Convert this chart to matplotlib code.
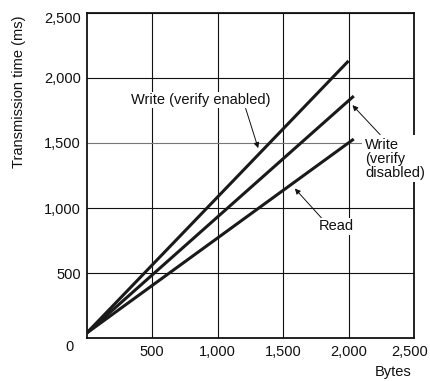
import matplotlib
matplotlib.use("Agg")
import matplotlib.pyplot as plt
import matplotlib.transforms as mtransforms

plt.rcParams['font.family'] = ['Liberation Sans', 'DejaVu Sans']

# Data
bytes_write_enabled = [0, 2000]
time_write_enabled = [40, 2130]
bytes_write_disabled = [0, 2040]
time_write_disabled = [40, 1860]
bytes_read = [0, 2040]
time_read = [40, 1530]

tick_values = [500, 1000, 1500, 2000, 2500]
tick_labels = ["500", "1,000", "1,500", "2,000", "2,500"]

FS = 10.5

fig = plt.figure(figsize=(4.31, 3.81), dpi=100)
ax = fig.add_axes([0.201, 0.112, 0.7596, 0.8547])

ax.set_xlim(0, 2500)
ax.set_ylim(0, 2500)
ax.set_xticks(tick_values)
ax.set_xticklabels(tick_labels)
ax.set_yticks(tick_values)
ax.set_yticklabels(tick_labels)
ax.tick_params(length=0, labelsize=FS, colors='#111111')
ax.tick_params(axis='x', pad=5)
ax.tick_params(axis='y', pad=4)
ax.grid(True, color='#111111', linewidth=0.8)
for i, gl in enumerate(ax.get_ygridlines()):
    if tick_values[i] == 1500:
        gl.set_color('#777777')
for s in ax.spines.values():
    s.set_linewidth(1.3)
    s.set_color('#111111')

# nudge the end labels like in the reference
xl = ax.get_xticklabels()[-1]
xl.set_transform(xl.get_transform() + mtransforms.ScaledTranslation(-4 / 100, 0, fig.dpi_scale_trans))
yl = ax.get_yticklabels()[-1]
yl.set_transform(yl.get_transform() + mtransforms.ScaledTranslation(0, -5 / 100, fig.dpi_scale_trans))

lc = '#1a1a1a'
ax.plot(bytes_write_enabled, time_write_enabled, color=lc, lw=2.2, solid_capstyle='butt', zorder=3)
ax.plot(bytes_write_disabled, time_write_disabled, color=lc, lw=2.2, solid_capstyle='butt', zorder=3)
ax.plot(bytes_read, time_read, color=lc, lw=2.2, solid_capstyle='butt', zorder=3)

arrow = dict(arrowstyle='-|>', color='#111111', lw=0.7, mutation_scale=8, shrinkA=0, shrinkB=0)

ax.annotate("Write (verify enabled)", xy=(1310, 1460), xytext=(870, 1830),
            ha='center', va='center', fontsize=FS, color='#111111',
            bbox=dict(boxstyle='square,pad=0.1', fc='white', ec='none'),
            arrowprops=dict(arrow, relpos=(0.82, 0.0)), zorder=5)

ax.annotate("Read", xy=(1590, 1150), xytext=(1910, 860),
            ha='center', va='center', fontsize=FS, color='#111111',
            bbox=dict(boxstyle='square,pad=0.1', fc='white', ec='none'),
            arrowprops=dict(arrow, relpos=(0.1, 1.0)), zorder=5)

ax.annotate("Write\n(verify\ndisabled)", xy=(2030, 1790), xytext=(2125, 1380),
            ha='left', va='center', fontsize=FS, color='#111111', linespacing=1.0,
            bbox=dict(boxstyle='square,pad=0.2', fc='white', ec='none'),
            arrowprops=dict(arrow, relpos=(0.3, 1.0)), zorder=5,
            annotation_clip=False)

fig.text(69 / 431, 1 - 347 / 381, "0", ha='center', va='center', fontsize=FS, color='#111111')
fig.text(393 / 431, 1 - 372 / 381, "Bytes", ha='center', va='center', fontsize=FS, color='#111111')
fig.text(19 / 431, 1 - 92 / 381, "Transmission time (ms)", ha='center', va='center',
         rotation=90, fontsize=FS, color='#111111')

fig.savefig("out.png", dpi=100)
